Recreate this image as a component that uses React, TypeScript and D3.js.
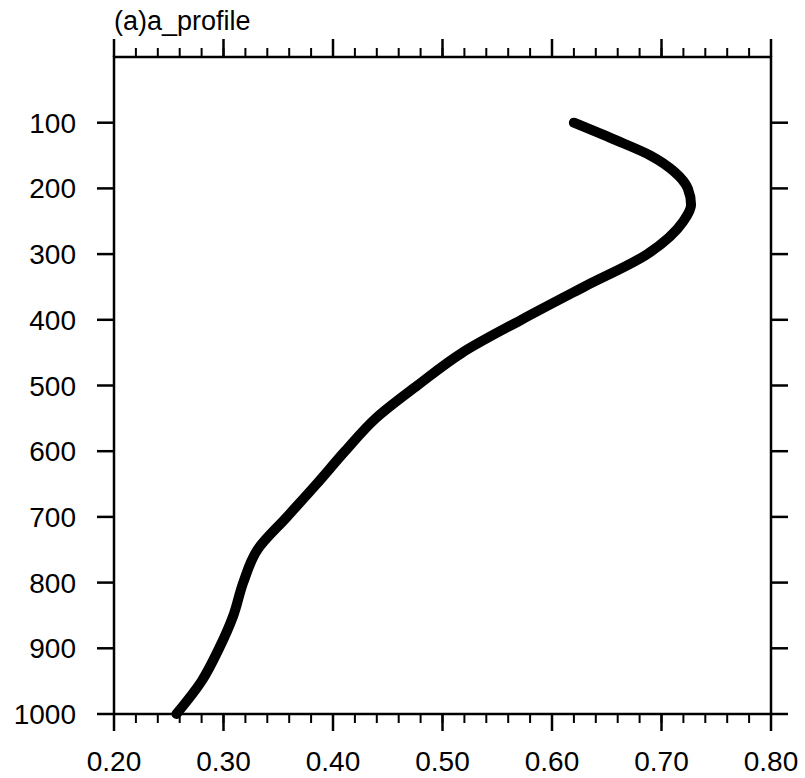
import React from "react";
import * as d3 from "d3";

// Vertical profile: pressure levels (hPa) and the profile value at each level
const levels = [100, 125, 150, 175, 200, 225, 250, 300, 350, 400, 450, 500, 550, 600, 650, 700, 750, 800, 850, 900, 950, 1000];
const values = [0.620, 0.656, 0.690, 0.712, 0.724, 0.727, 0.720, 0.687, 0.629, 0.572, 0.518, 0.477, 0.439, 0.411, 0.385, 0.358, 0.331, 0.318, 0.309, 0.296, 0.280, 0.257];

const xMajorTicks = [0.2, 0.3, 0.4, 0.5, 0.6, 0.7, 0.8];
const yTicks = [100, 200, 300, 400, 500, 600, 700, 800, 900, 1000];
const title = "(a)a_profile";

const W = 805;
const H = 778;
const left = 114;
const right = 771;
const top = 57;
const bottom = 714;

export default function App() {
  const x = d3.scaleLinear().domain([0.2, 0.8]).range([left, right]);
  const y = d3.scaleLinear().domain([0, 1000]).range([top, bottom]);

  const minorTicks = d3.range(0, 31).map((i) => 0.2 + i * 0.02);
  const pts: [number, number][] = levels.map((p, i) => [values[i], p]);
  const line = d3
    .line<[number, number]>()
    .x((d) => x(d[0]))
    .y((d) => y(d[1]))
    .curve(d3.curveMonotoneY);

  const font = "'Liberation Sans', Arial, Helvetica, sans-serif";
  const majorLen = 17;
  const minorLen = 9;

  return (
    <svg
      width={W}
      height={H}
      style={{ position: "absolute", left: 0, top: 0, background: "#fff" }}
    >
      <rect x={0} y={0} width={W} height={H} fill="#fff" />
      <text x={left} y={30} fontFamily={font} fontSize={27} fill="#000">
        {title}
      </text>

      {/* minor x ticks, top and bottom */}
      {minorTicks.map((t, i) => (
        <g key={"mn" + i} stroke="#000" strokeWidth={2}>
          <line x1={x(t)} x2={x(t)} y1={top} y2={top - minorLen} />
          <line x1={x(t)} x2={x(t)} y1={bottom} y2={bottom + minorLen} />
        </g>
      ))}
      {/* major x ticks and labels */}
      {xMajorTicks.map((t, i) => (
        <g key={"mj" + i}>
          <line x1={x(t)} x2={x(t)} y1={top} y2={top - majorLen - 1} stroke="#000" strokeWidth={2.5} />
          <line x1={x(t)} x2={x(t)} y1={bottom} y2={bottom + majorLen} stroke="#000" strokeWidth={2.5} />
          <text
            x={x(t)}
            y={771}
            textAnchor="middle"
            fontFamily={font}
            fontSize={28}
            fill="#000"
          >
            {d3.format(".2f")(t)}
          </text>
        </g>
      ))}
      {/* y ticks and labels */}
      {yTicks.map((t, i) => (
        <g key={"y" + i}>
          <line x1={left} x2={left - majorLen} y1={y(t)} y2={y(t)} stroke="#000" strokeWidth={2.5} />
          <line x1={right} x2={right + majorLen} y1={y(t)} y2={y(t)} stroke="#000" strokeWidth={2.5} />
          <text
            x={76}
            y={y(t)}
            dy="0.36em"
            textAnchor="end"
            fontFamily={font}
            fontSize={28}
            fill="#000"
          >
            {t}
          </text>
        </g>
      ))}

      <path
        d={line(pts) || ""}
        fill="none"
        stroke="#000"
        strokeWidth={10}
        strokeLinejoin="round"
        strokeLinecap="round"
      />

      <rect
        x={left}
        y={top}
        width={right - left}
        height={bottom - top}
        fill="none"
        stroke="#000"
        strokeWidth={2.5}
      />
    </svg>
  );
}
